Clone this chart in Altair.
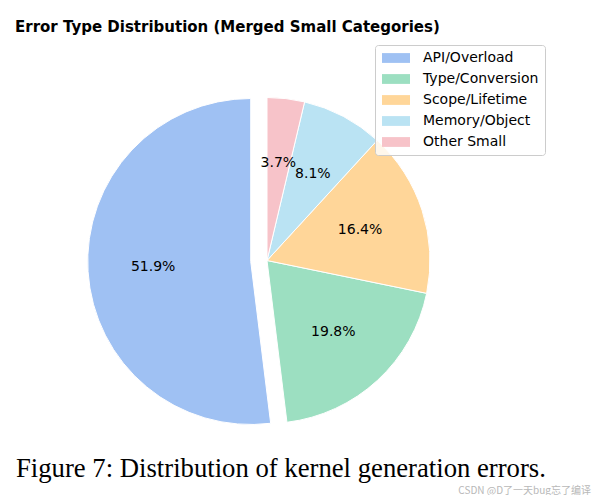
import altair as alt
import pandas as pd

# ---- data ----
categories = ["API/Overload", "Type/Conversion", "Scope/Lifetime", "Memory/Object", "Other Small"]
values = [51.9, 19.8, 16.4, 8.1, 3.7]
colors = ["#9fc1f3", "#9cdfc1", "#ffd699", "#bae3f3", "#f7c3c9"]
explode = [0.1, 0, 0, 0, 0]
title_text = "Error Type Distribution (Merged Small Categories)"
caption_text = "Figure 7: Distribution of kernel generation errors."
watermark_text = "CSDN @D了一天bug忘了编译"

# layout constants (chart coordinates; page has 8px margin)
CX, CY, R = 259, 252.5, 163
W, H = 584, 487

# matplotlib draws counter-clockwise from 12 o'clock; Vega draws clockwise,
# so the clockwise drawing order is the reverse of the category order.
n = len(categories)
df = pd.DataFrame({
    "cat": categories,
    "value": values,
    "explode": explode,
    "order": [n - 1 - i for i in range(n)],
})

base = alt.Chart(df).transform_joinaggregate(
    total="sum(value)"
).transform_window(
    cum="sum(value)", sort=[alt.SortField("order")], frame=[None, 0]
).transform_calculate(
    start="(datum.cum - datum.value) / datum.total * 2 * PI",
    end="datum.cum / datum.total * 2 * PI",
).transform_calculate(
    mid="(datum.start + datum.end) / 2",
).transform_calculate(
    ax=f"{CX} + datum.explode * {R} * sin(datum.mid)",
    ay=f"{CY} - datum.explode * {R} * cos(datum.mid)",
).transform_calculate(
    lx=f"datum.ax + 0.6 * {R} * sin(datum.mid)",
    ly=f"datum.ay - 0.6 * {R} * cos(datum.mid)",
    label="format(datum.value, '.1f') + '%'",
)

arcs = base.mark_arc(outerRadius=R, stroke="white", strokeWidth=1).encode(
    theta=alt.Theta("start:Q", scale=None),
    theta2="end:Q",
    x=alt.X("ax:Q", scale=None, axis=None),
    y=alt.Y("ay:Q", scale=None, axis=None),
    color=alt.Color(
        "cat:N",
        scale=alt.Scale(domain=categories, range=colors),
        legend=alt.Legend(
            title=None,
            orient="none",
            legendX=367,
            legendY=37,
            direction="vertical",
            symbolType="M-2,-0.7L2,-0.7L2,0.7L-2,0.7Z",
            symbolSize=196,
            symbolStrokeWidth=0,
            symbolOpacity=1,
            labelFont="DejaVu Sans",
            labelFontSize=14,
            labelColor="#000000",
            labelOffset=20,
            symbolOffset=8,
            rowPadding=7,
            padding=6,
            fillColor="rgba(255,255,255,0.8)",
            strokeColor="#cccccc",
            cornerRadius=3,
        ),
    ),
)

labels = base.mark_text(font="DejaVu Sans", fontSize=14, color="black",
                        align="center", baseline="middle").encode(
    x=alt.X("lx:Q", scale=None, axis=None),
    y=alt.Y("ly:Q", scale=None, axis=None),
    text="label:N",
)

txt = pd.DataFrame({"t": [title_text]})
title = alt.Chart(txt).mark_text(
    font="DejaVu Sans", fontSize=15, fontWeight="bold", align="left",
    baseline="alphabetic", color="black"
).encode(x=alt.value(7), y=alt.value(24), text="t:N")

cap = pd.DataFrame({"t": [caption_text]})
caption = alt.Chart(cap).mark_text(
    font="Liberation Serif", fontSize=26.7, align="left",
    baseline="alphabetic", color="black"
).encode(x=alt.value(8), y=alt.value(469), text="t:N")

wm = pd.DataFrame({"t": [watermark_text]})
watermark = alt.Chart(wm).mark_text(
    font="Noto Sans CJK SC", fontSize=10, align="right",
    baseline="alphabetic", color="#b8b8b8"
).encode(x=alt.value(583), y=alt.value(485.5), text="t:N")

chart = alt.layer(arcs, labels, title, caption, watermark).properties(
    width=W, height=H, autosize=alt.AutoSizeParams(type="none"), padding=0,
).configure(background="white").configure_view(stroke=None)

chart.save("out.html", embed_options={"renderer": "svg", "actions": False})
